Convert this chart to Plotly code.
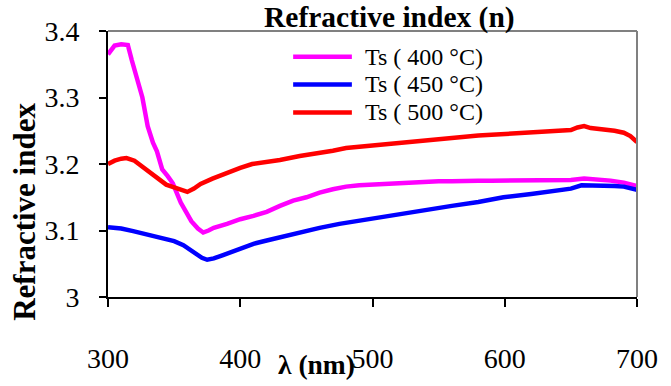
import plotly.graph_objects as go

# ---------------- data ----------------
wl_400 = [300, 305, 310, 315, 318, 322, 326, 330, 334, 337, 341, 345, 349, 355, 360, 363, 368, 372,
          376, 380, 390, 400, 410, 420, 430, 440, 450, 460, 470, 480, 490, 500, 510, 520, 530, 540,
          550, 560, 570, 580, 590, 600, 610, 620, 630, 640, 650, 660, 670, 680, 690, 700]
n_400 = [3.365, 3.378, 3.380, 3.379, 3.356, 3.330, 3.300, 3.257, 3.232, 3.219, 3.192, 3.182, 3.171,
         3.142, 3.125, 3.114, 3.103, 3.097, 3.100, 3.104, 3.110, 3.117, 3.122, 3.128, 3.137, 3.145,
         3.150, 3.157, 3.162, 3.166, 3.168, 3.169, 3.170, 3.172, 3.173, 3.173, 3.174, 3.174, 3.175,
         3.175, 3.175, 3.175, 3.176, 3.175, 3.175, 3.176, 3.176, 3.178, 3.177, 3.175, 3.172, 3.167]

wl_450 = [300, 310, 319, 330, 344, 350, 357, 362, 367, 371, 375, 380, 387, 394, 400, 410, 420, 430,
          445, 460, 475, 490, 500, 520, 543, 560, 580, 599, 620, 643, 650, 658, 670, 683, 690, 700]
n_450 = [3.105, 3.103, 3.099, 3.094, 3.088, 3.084, 3.078, 3.071, 3.063, 3.059, 3.056, 3.058, 3.063,
         3.068, 3.073, 3.080, 3.085, 3.090, 3.097, 3.104, 3.110, 3.115, 3.118, 3.124, 3.132, 3.137,
         3.143, 3.150, 3.155, 3.161, 3.163, 3.168, 3.168, 3.167, 3.166, 3.161]

wl_500 = [300, 305, 310, 314, 320, 326, 332, 338, 344, 350, 355, 360, 365, 370, 379, 390, 400, 409,
          420, 430, 445, 460, 470, 480, 490, 500, 510, 520, 530, 540, 555, 570, 580, 590, 600, 610,
          620, 630, 643, 650, 655, 660, 665, 670, 675, 683, 690, 695, 700]
n_500 = [3.200, 3.205, 3.208, 3.209, 3.205, 3.196, 3.186, 3.177, 3.169, 3.165, 3.162, 3.158, 3.163,
         3.170, 3.178, 3.187, 3.194, 3.200, 3.203, 3.206, 3.212, 3.216, 3.220, 3.224, 3.226, 3.228,
         3.229, 3.231, 3.233, 3.235, 3.239, 3.241, 3.243, 3.244, 3.245, 3.246, 3.247, 3.248, 3.250,
         3.251, 3.255, 3.257, 3.254, 3.253, 3.252, 3.250, 3.247, 3.242, 3.233]

series_names = ["Ts ( 400 °C)", "Ts ( 450 °C)", "Ts ( 500 °C)"]
series_colors = ["#FF00FF", "#0000FF", "#FF0000"]

x_ticks = [300, 400, 500, 600, 700]
y_ticks = [3.0, 3.1, 3.2, 3.3, 3.4]
y_tick_text = ["3", "3.1", "3.2", "3.3", "3.4"]

FONT = "Liberation Serif"
LINE_W = 4.5

fig = go.Figure()
for xs, ys, name, col in zip([wl_400, wl_450, wl_500], [n_400, n_450, n_500], series_names, series_colors):
    fig.add_trace(go.Scatter(x=xs, y=ys, mode="lines", name=name, showlegend=False,
                             line=dict(color=col, width=LINE_W)))

# legend drawn as paper-positioned samples (long line samples like the original)
legend_rows_y = [0.903, 0.799, 0.694]
shapes = [
    dict(type="line", xref="paper", yref="paper", x0=0, x1=1, y0=1, y1=1,
         line=dict(color="#808080", width=2)),
    dict(type="line", xref="paper", yref="paper", x0=1, x1=1, y0=0, y1=1,
         line=dict(color="#808080", width=2)),
]
annotations = []
for name, col, ly in zip(series_names, series_colors, legend_rows_y):
    shapes.append(dict(type="line", xref="paper", yref="paper", x0=0.350, x1=0.461, y0=ly, y1=ly,
                       line=dict(color=col, width=LINE_W)))
    annotations.append(dict(text=name, xref="paper", yref="paper", x=0.482, y=ly,
                            xanchor="left", yanchor="middle", showarrow=False,
                            font=dict(family=FONT, size=24, color="black")))

annotations += [
    dict(text="<b>Refractive index (n)</b>", xref="paper", yref="paper", x=0.533, y=1.05,
         xanchor="center", yanchor="middle", showarrow=False,
         font=dict(family=FONT, size=29.5, color="black")),
    dict(text="<b>Refractive index</b>", xref="paper", yref="paper", x=-0.157, y=0.32,
         xanchor="center", yanchor="middle", textangle=-90, showarrow=False,
         font=dict(family=FONT, size=31, color="black")),
    dict(text="<b>λ (nm)</b>", xref="paper", yref="paper", x=0.395, y=-0.255,
         xanchor="center", yanchor="middle", showarrow=False,
         font=dict(family=FONT, size=27.5, color="black")),
]

fig.update_layout(
    width=671, height=386,
    margin=dict(l=108, r=34, t=31, b=77),
    paper_bgcolor="white", plot_bgcolor="white",
    font=dict(family=FONT, color="black"),
    showlegend=False,
    xaxis=dict(range=[300, 700], tickvals=x_ticks, ticks="outside", ticklen=8, tickwidth=1.5,
               tickcolor="black", showline=True, linecolor="black", linewidth=2,
               showgrid=False, zeroline=False, ticklabelstandoff=27,
               tickfont=dict(family=FONT, size=28, color="black")),
    yaxis=dict(range=[3.0, 3.4], tickvals=y_ticks, ticktext=y_tick_text, ticks="outside",
               ticklen=7, tickwidth=1.5, tickcolor="black", showline=True, linecolor="black",
               linewidth=2, showgrid=False, zeroline=False, ticklabelstandoff=14,
               tickfont=dict(family=FONT, size=28, color="black")),
    shapes=shapes,
    annotations=annotations,
)

fig.write_html("out.html")
